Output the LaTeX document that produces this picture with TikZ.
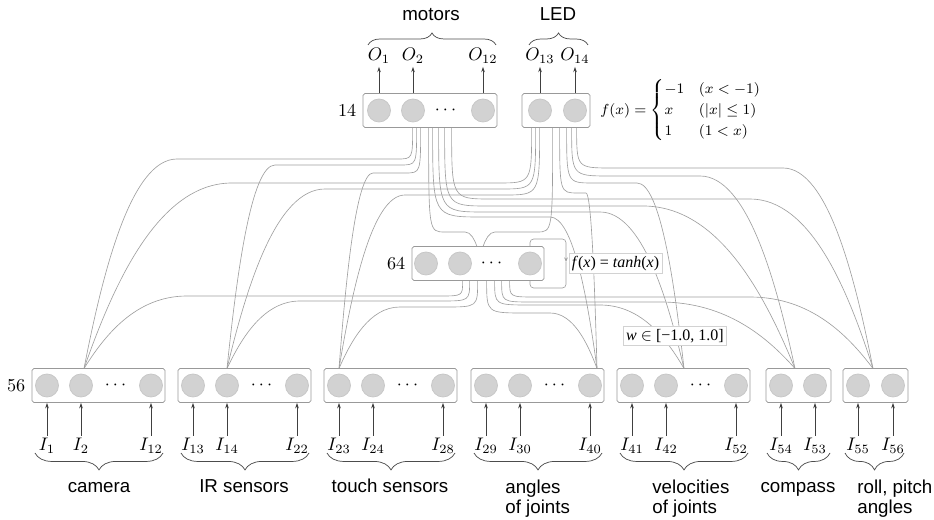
\documentclass[tikz,border=0pt]{standalone}
\usepackage{amsmath}
\usepackage{fontspec}
\setsansfont{Liberation Sans}
\newfontfamily\timesfont{Liberation Serif}
\usetikzlibrary{positioning,arrows.meta,decorations.pathreplacing,backgrounds,calc}
\newcommand{\px}{0.55pt}

\begin{document}
\begin{tikzpicture}[x=\px, y=\px,
  layerbox/.style={draw=gray!80, fill=white, rounded corners=1pt, line width=0.4pt, minimum height=34*\px, inner sep=0pt},
  neuron/.style={circle, draw=gray!45, fill=gray!35, minimum size=23*\px, inner sep=0pt},
  wire/.style={draw=gray!75, line width=0.35pt},
  io/.style={-{Stealth[length=3pt,width=2pt]}, draw=black!75, line width=0.4pt},
  inlab/.style={anchor=north, inner sep=1pt},
  outlab/.style={anchor=base, inner sep=1.5pt},
  upbrace/.style={decorate, decoration={brace, amplitude=6.6pt}, draw=black!70, line width=0.4pt},
  downbrace/.style={decorate, decoration={brace, mirror, amplitude=9.3pt}, draw=black!70, line width=0.4pt},
  grp/.style={font=\sffamily\fontsize{10.3}{11}\selectfont, inner sep=0pt},
  notebox/.style={draw=gray!35, fill=white, inner sep=1.5pt, font=\timesfont\fontsize{8.8}{10}\selectfont}]
\useasboundingbox (0,0) rectangle (934,520);

% output layer
\node[layerbox, minimum width=134*\px] (mot) at (430,409.5) {};
\node[layerbox, minimum width=68*\px] (led) at (556,409.5) {};
\foreach \n/\x in {1/379, 2/413, 3/483} \node[neuron] (mot-\n) at (\x,409.5) {};
\node (mot-dots) at (447,409.5) {$\cdots$};
\foreach \n/\x in {1/540, 2/575} \node[neuron] (led-\n) at (\x,409.5) {};
\node[left=0pt of mot] (n-out) {$14$};
\foreach \n/\x/\k in {o1/379/1, o2/413/2, o12/483/12, o13/540/13, o14/575/14}{
  \node[outlab] (\n) at (\x,459) {$O_{\k}$};
  \draw[io] (mot.north -| \n) -- (\n);
}
\draw[upbrace] (368,475) -- (496,475);
\draw[upbrace] (529,475) -- (588,475);
\node[grp, anchor=base] (l-mot) at (431,499) {motors};
\node[grp, anchor=base] (l-led) at (558,499) {LED};
\node[right=2pt of led, font=\footnotesize] (act-out) {$f(x)=\begin{cases}-1 & (x<-1)\\ x & (|x|\leq 1)\\ 1 & (1<x)\end{cases}$};

% hidden layer
\node[layerbox, minimum width=132*\px] (hid) at (478,256.5) {};
\foreach \n/\x in {1/426, 2/460, 3/530} \node[neuron] (hid-\n) at (\x,256.5) {};
\node (hid-dots) at (493,256.5) {$\cdots$};
\node[left=0pt of hid] (n-hid) {$64$};
\node[notebox] (act-hid) at (615.5,256.5) {\textit{f}(\textit{x}) = \textit{tanh}(\textit{x})};
\node[notebox] (w-range) at (675,184) {\textit{w} $\in$ [−1.0, 1.0]};
\coordinate (loop) at (566,258);

% input layer
\foreach \b/\x/\ia/\ib/\ic in {cam/32/1/2/12, ir/178/13/14/22, tch/324/23/24/28, ang/471/29/30/40, vel/617/41/42/52}{
  \node[layerbox, minimum width=133*\px] (\b) at (\x+66.5,134.5) {};
  \foreach \n/\dx/\k in {1/15/\ia, 2/49/\ib, 3/119/\ic}{
    \node[neuron] (\b-\n) at (\x+\dx,134.5) {};
    \node[inlab] (\b-i\n) at (\x+\dx,84) {$I_{\k}$};
    \draw[io] (\b-i\n) -- (\b-i\n |- \b.south);
  }
  \node (\b-dots) at (\x+85,134.5) {$\cdots$};
  \draw[downbrace] (\x+3,67) -- (\x+131,67);
}
\node[layerbox, minimum width=65*\px] (cmp) at (798.5,134.5) {};
\node[layerbox, minimum width=65*\px] (rol) at (875.5,134.5) {};
\foreach \b/\n/\x/\k in {cmp/1/781/54, cmp/2/815/53, rol/1/858/55, rol/2/893/56}{
  \node[neuron] (\b-\n) at (\x,134.5) {};
  \node[inlab] (\b-i\n) at (\x,84) {$I_{\k}$};
  \draw[io] (\b-i\n) -- (\b-i\n |- \b.south);
}
\draw[downbrace] (767,67) -- (830,67);
\draw[downbrace] (845,67) -- (904,67);
\node[left=0pt of cam] (n-in) {$56$};

\node[grp, anchor=base] (l-cam) at (99,27) {camera};
\node[grp, anchor=base] (l-ir) at (244,27) {IR sensors};
\node[grp, anchor=base] (l-tch) at (390,27) {touch sensors};
\node[grp, anchor=north west, align=left] (l-ang) at (505,40) {angles\\of joints};
\node[grp, anchor=north west, align=left] (l-vel) at (652,40) {velocities\\of joints};
\node[grp, anchor=base] (l-cmp) at (798,27) {compass};
\node[grp, anchor=north west, align=left] (l-rol) at (857,40) {roll, pitch\\angles};

\foreach \b/\x in {cam/84, ir/227, tch/339, ang/597, vel/684, cmp/795, rol/873}
  \coordinate (\b-in) at (\x,151.5);
\coordinate (hidm-in) at (477,273.5);
\coordinate (hidl-in) at (483,273.5);

\begin{scope}[on background layer]
\foreach \src/\list in {mot/{cam/50/361/397/177, ir/54/355/400/275, tch/58/347/405/373, hidm/66/288/445/465,
      ang/70/303/482/550, vel/76/308/485/600, cmp/82/314/488/643, rol/89/321/491/750},
    led/{cam/10/337/498/232, ir/14/331/501/325, tch/18/325/504/405, hidl/31/288/537/495,
      ang/38/327/578/586, vel/45/337/593/637, cmp/50/344/610/700, rol/55/352/612/783},
    hid/{cam/51/224/440/187, ir/58/219/440/300, tch/66/213/445/400,
      ang/75/207/525/550, vel/83/215/530/600, cmp/90/218/532/660, rol/98/223/535/750}}
  \foreach \d/\sx/\yl/\xa/\xb in \list{
    \coordinate (s) at ([xshift=\sx*\px]\src.south west);
    \coordinate (c) at ($(\d-in |- 0,\yl)!0.44!(\xb,\yl)$);
    \draw[wire] (s) .. controls (s |- 0,\yl) .. (\xa,\yl) -- (\xb,\yl)
      .. controls ($(\xb,\yl)!0.5!(\d-in |- 0,\yl)$) and ($(\d-in)!0.45!(c)$) .. (\d-in);
  }
\draw[wire, rounded corners=2pt, -{Stealth[length=2.5pt,width=2pt]}] (hid-3.center) |- (566,281) -- (loop);
\draw[wire, rounded corners=2pt] (loop) -- (566,232) -| (hid-3.center);
\end{scope}
\end{tikzpicture}
\end{document}
